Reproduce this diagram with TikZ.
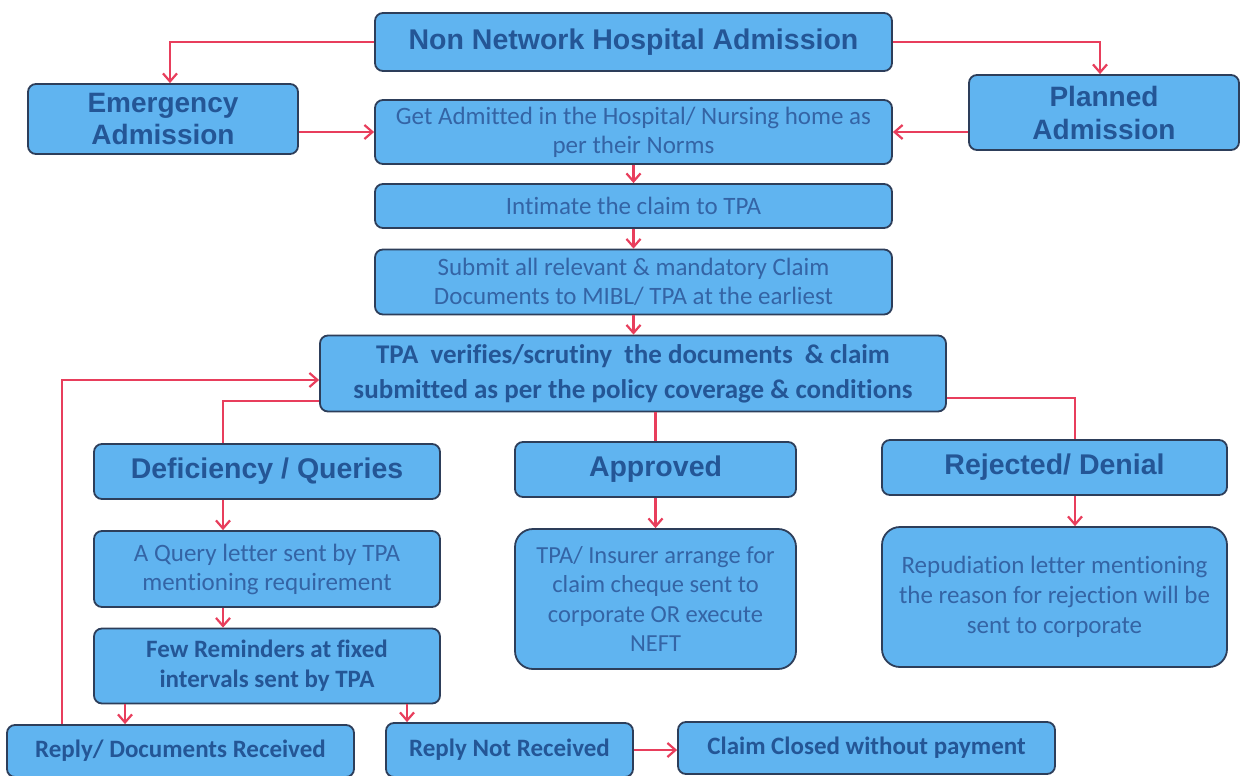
\documentclass[tikz,border=0pt]{standalone}
\usepackage{fontspec}
\setmainfont[Ligatures=NoCommon]{Carlito}
\newfontfamily\arialf{Liberation Sans}
\usetikzlibrary{arrows.meta}
\definecolor{boxfill}{RGB}{96,180,240}
\definecolor{boxline}{RGB}{45,62,90}
\definecolor{txtdark}{RGB}{36,86,150}
\definecolor{txtlight}{RGB}{52,100,165}
\definecolor{conncol}{RGB}{232,62,92}
\newcommand{\fs}[2]{\fontsize{#1}{#2}\selectfont}
\begin{document}
\begin{tikzpicture}[x=1pt,y=-1pt,
  box/.style={draw=boxline, line width=1.8pt, fill=boxfill, rounded corners=8pt, align=center, inner sep=2pt},
  bigbox/.style={box, rounded corners=18pt},
  hd/.style args={#1/#2}{font=\arialf\bfseries\fs{#1}{#2}, text=txtdark},
  bd/.style args={#1/#2}{font=\bfseries\fs{#1}{#2}, text=txtdark},
  rg/.style args={#1/#2}{font=\fs{#1}{#2}, text=txtlight},
  conn/.style={draw=conncol, line width=2.2pt, -{Straight Barb[length=8pt,width=14pt,line width=2.2pt]}},
  ln/.style={draw=conncol, line width=2.2pt}]
\useasboundingbox (0,0) rectangle (1240,776);
\fill[white] (0,0) rectangle (1240,776);

% top
\node[box, hd=28.5/32, minimum width=517pt, minimum height=58pt] (nn) at (633.5,42) {Non Network Hospital Admission};
\node[box, hd=28/32, minimum width=270pt, minimum height=70pt] (em) at (163,119) {Emergency\\Admission};
\node[box, rg=25/29, minimum width=517pt, minimum height=64pt] (ga) at (633.5,132) {Get Admitted in the Hospital/ Nursing home as\\per their Norms};
\node[box, hd=28/33, minimum width=270pt, minimum height=75pt] (pl) at (1104,112.5) {Planned\\Admission};
\node[box, rg=25/29, minimum width=517pt, minimum height=44pt] (in) at (633.5,206) {Intimate the claim to TPA};
\node[box, rg=25/29, minimum width=517pt, minimum height=65pt] (sb) at (633.5,282) {Submit all relevant \& mandatory Claim\\Documents to MIBL/ TPA at the earliest};
\node[box, bd=27/35, minimum width=626pt, minimum height=76pt] (tv) at (633,373.5) {TPA\ \ verifies/scrutiny\ \ the documents\ \ \& claim\\submitted as per the policy coverage \& conditions};

% second row
\node[box, hd=28.5/32, minimum width=346pt, minimum height=55pt] (df) at (267,471.5) {Deficiency / Queries};
\node[box, hd=28.5/32, minimum width=281pt, minimum height=55pt] (ap) at (655.5,469.5) {Approved};
\node[box, hd=28.5/32, minimum width=345pt, minimum height=55pt] (rj) at (1054.5,467.5) {Rejected/ Denial};

\node[box, rg=25/29, minimum width=346pt, minimum height=76pt] (ql) at (267,569) {A Query letter sent by TPA\\mentioning requirement};
\node[bigbox, rg=24.5/29.5, minimum width=281pt, minimum height=140pt] (ti) at (655.5,599) {TPA/ Insurer arrange for\\claim cheque sent to\\corporate OR execute\\NEFT};
\node[bigbox, rg=25/30, minimum width=345pt, minimum height=140pt] (rp) at (1054.5,597) {Repudiation letter mentioning\\the reason for rejection will be\\sent to corporate};
\node[box, bd=25/30, minimum width=346pt, minimum height=75pt] (fr) at (267,666) {Few Reminders at fixed\\intervals sent by TPA};

% bottom row
\node[box, bd=25/29, minimum width=347pt, minimum height=52pt] (rd) at (180.5,751) {Reply/ Documents Received};
\node[box, bd=25/29, minimum width=247pt, minimum height=54pt] (rn) at (509.5,750) {Reply Not Received};
\node[box, bd=25/29, minimum width=377pt, minimum height=52pt] (cc) at (866.5,748) {Claim Closed without payment};

% helper coordinates
\coordinate (xe) at (170,0);
\coordinate (xp) at (1100,0);
\coordinate (xd) at (223,0);
\coordinate (xr) at (1075,0);
\coordinate (xa) at (125,0);
\coordinate (xb) at (407,0);
\coordinate (xl) at (62,0);
\coordinate (ya) at (0,401);
\coordinate (yb) at (0,380);
\coordinate (yc) at (0,398);

% connectors
\draw[conn] (nn.west) -| (em.north -| xe);
\draw[conn] (nn.east) -| (pl.north -| xp);
\draw[conn] (em.east |- ga.west) -- (ga.west);
\draw[conn] (pl.west |- ga.east) -- (ga.east);
\draw[conn] (ga.south) -- (in.north);
\draw[conn] (in.south) -- (sb.north);
\draw[conn] (sb.south) -- (tv.north -| sb.south);
\draw[ln] (tv.west |- ya) -| (df.north -| xd);
\draw[ln] (ap.north |- tv.south) -- (ap.north);
\draw[ln] (tv.east |- yc) -| (rj.north -| xr);
\draw[conn] (rd.north -| xl) |- (tv.west |- yb);
\draw[conn] (df.south -| xd) -- (ql.north -| xd);
\draw[conn] (ap.south) -- (ti.north);
\draw[conn] (rj.south -| xr) -- (rp.north -| xr);
\draw[conn] (ql.south -| xd) -- (fr.north -| xd);
\draw[conn] (fr.south -| xa) -- (rd.north -| xa);
\draw[conn] (fr.south -| xb) -- (rn.north -| xb);
\draw[conn] (rn.east) -- (rn.east -| cc.west);
\end{tikzpicture}
\end{document}
